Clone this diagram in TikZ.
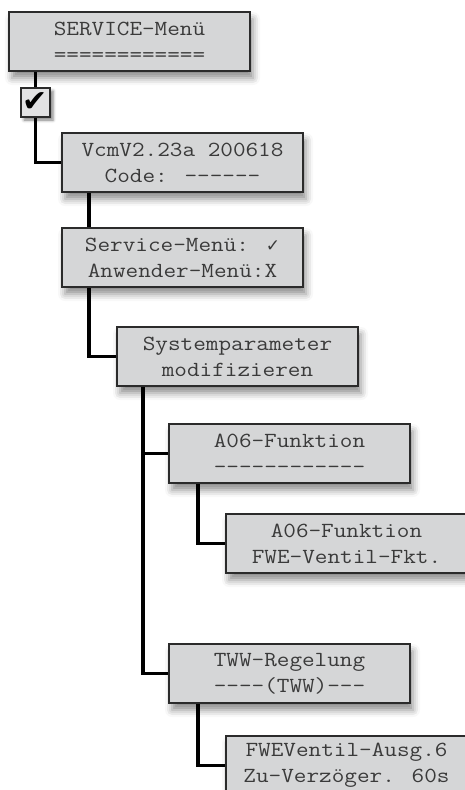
\documentclass[tikz,border=0pt]{standalone}
\usepackage{fontspec}
\newfontfamily\menufont[FakeStretch=1.14]{Latin Modern Mono}
\newfontfamily\symfont{DejaVu Sans}
\usetikzlibrary{calc,shadows.blur}

\definecolor{boxfill}{HTML}{D5D6D7}
\definecolor{boxline}{HTML}{2B2B2B}
\definecolor{boxtext}{HTML}{3A3A3A}

\tikzset{
  menubox/.style={draw=boxline, line width=2pt, fill=boxfill, text=boxtext,
    anchor=north west, minimum width=241pt, minimum height=59pt, inner sep=0pt,
    align=center, font=\menufont\fontsize{21.5}{26}\selectfont,
    blur shadow={shadow xshift=3pt, shadow yshift=-7pt, shadow blur radius=7pt, shadow opacity=45}},
  checkbox/.style={draw=boxline, line width=1.5pt, fill=boxfill!70!white,
    minimum size=29pt, inner sep=0pt, font=\symfont\fontsize{30}{30}\selectfont,
    blur shadow={shadow xshift=3pt, shadow yshift=-3pt, shadow blur radius=3pt, shadow opacity=50}},
  link/.style={line width=3.2pt, black, line join=miter}
}

\begin{document}
\begin{tikzpicture}[x=1pt, y=-1pt]
    \useasboundingbox (0,0) rectangle (464,790);

    % Menue-Kaesten
    \node[menubox] (menu) at (8,11) {SERVICE-Menü\\============};
    \node[checkbox] (chk) at (35.5,102.5) {\raisebox{-1pt}{✔}};
    \node[menubox] (vers) at (61,132) {VcmV2.23a 200618\\Code: ------};
    \node[menubox] (wahl) at (61,227) {Service-Menü: {\symfont\fontsize{17}{17}\selectfont ✓}\\Anwender-Menü:X};
    \node[menubox] (sys) at (116,326) {Systemparameter\\modifizieren};
    \node[menubox] (afkt) at (168,423) {A06-Funktion\\------------};
    \node[menubox] (fwe) at (225,513) {A06-Funktion\\FWE-Ventil-Fkt.};
    \node[menubox] (tww) at (168,643) {TWW-Regelung\\----(TWW)---};
    \node[menubox] (ausg) at (225,735) {FWEVentil-Ausg.6\\Zu-Verzöger. 60s};

    % Verbindungen
    \coordinate (tsys) at ($(sys.south west)+(27,0)$);
    \draw[link] (menu.south -| chk) -- (chk.north);
    \draw[link] (chk.south) |- (vers.west);
    \draw[link] ($(vers.south west)+(28,0)$) -- ($(wahl.north west)+(28,0)$);
    \draw[link] ($(wahl.south west)+(28,0)$) |- (sys.west);
    \draw[link] (tsys) |- (afkt.west);
    \draw[link] (tsys) |- (tww.west);
    \draw[link] ($(afkt.south west)+(30,0)$) |- (fwe.west);
    \draw[link] ($(tww.south west)+(30,0)$) |- (ausg.west);

\end{tikzpicture}
\end{document}
